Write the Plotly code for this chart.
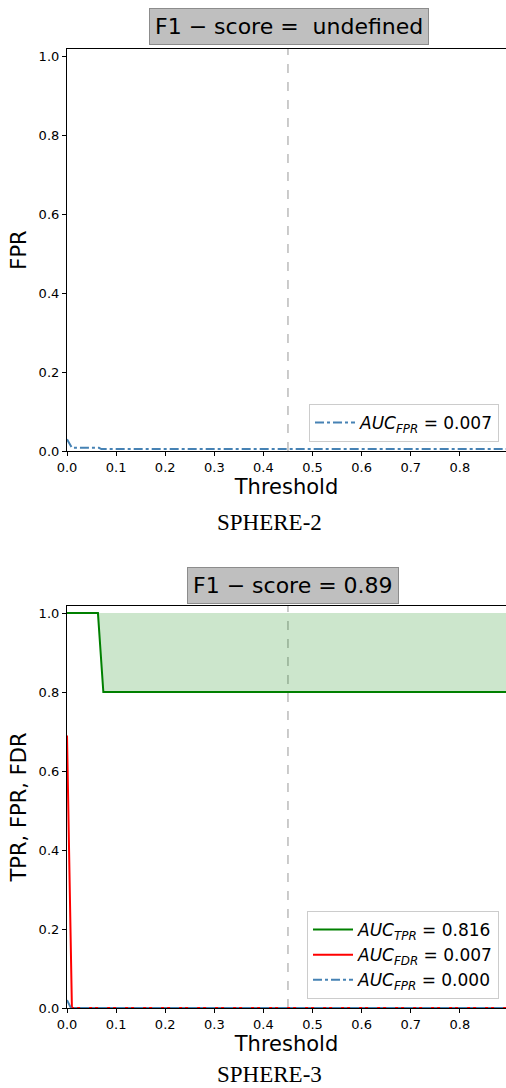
import plotly.graph_objects as go

W, H = 506, 1088

# ---- data ----
thr_top = [0.0, 0.01, 0.065, 0.07, 1.0]
fpr_top = [0.03, 0.008, 0.008, 0.005, 0.005]

thr_tpr = [0.0, 0.063, 0.074, 1.0]
tpr_bot = [1.0, 1.0, 0.8, 0.8]
ones_bot = [1.0, 1.0, 1.0, 1.0]
thr_fdr = [0.0, 0.01, 1.0]
fdr_bot = [0.69, 0.0, 0.0]
thr_fpr = [0.0, 0.008, 1.0]
fpr_bot = [0.02, 0.0, 0.0]

x_ticks = [0.0, 0.1, 0.2, 0.3, 0.4, 0.5, 0.6, 0.7, 0.8]
y_ticks = [0.0, 0.2, 0.4, 0.6, 0.8, 1.0]
threshold_line = 0.45

legend_top = ["<i>AUC<sub>FPR</sub></i> = 0.007"]
legend_bot = ["<i>AUC<sub>TPR</sub></i> = 0.816", "<i>AUC<sub>FDR</sub></i> = 0.007",
              "<i>AUC<sub>FPR</sub></i> = 0.000"]
titles = ["F1 \u2212 score =  undefined", "F1 \u2212 score = 0.89"]
captions = ["SPHERE-2", "SPHERE-3"]
ytitles = ["FPR", "TPR, FPR, FDR"]

def py(p):
    return 1 - p / H

def px(p):
    return p / W

fig = go.Figure()

# top panel
fig.add_trace(go.Scatter(x=thr_top, y=fpr_top, mode="lines", name=legend_top[0],
                         line=dict(color="#4682b4", width=2, dash="dashdot"),
                         xaxis="x", yaxis="y", legend="legend"))

# bottom panel: shaded band between TPR and 1
fig.add_trace(go.Scatter(x=thr_tpr, y=ones_bot, mode="lines", line=dict(width=0, color="rgba(0,0,0,0)"),
                         showlegend=False, hoverinfo="skip", xaxis="x2", yaxis="y2"))
fig.add_trace(go.Scatter(x=thr_tpr, y=tpr_bot, mode="lines", line=dict(width=0, color="rgba(0,0,0,0)"),
                         fill="tonexty", fillcolor="rgba(0,128,0,0.2)", showlegend=False,
                         hoverinfo="skip", xaxis="x2", yaxis="y2"))
fig.add_trace(go.Scatter(x=thr_tpr, y=tpr_bot, mode="lines", name=legend_bot[0],
                         line=dict(color="#008000", width=2), xaxis="x2", yaxis="y2", legend="legend2"))
fig.add_trace(go.Scatter(x=thr_fdr, y=fdr_bot, mode="lines", name=legend_bot[1],
                         line=dict(color="#ff0000", width=2), xaxis="x2", yaxis="y2", legend="legend2"))
fig.add_trace(go.Scatter(x=thr_fpr, y=fpr_bot, mode="lines", name=legend_bot[2],
                         line=dict(color="#4682b4", width=2, dash="dashdot"),
                         xaxis="x2", yaxis="y2", legend="legend2"))

tickfont = dict(family="DejaVu Sans", size=13, color="black")
titlefont = dict(family="DejaVu Sans", size=21, color="black")

def xaxis(dom_anchor):
    return dict(domain=[px(67), 1], range=[0, 0.894], tickvals=x_ticks,
                ticktext=[f"{v:.1f}" for v in x_ticks], ticks="outside", ticklen=4,
                tickcolor="black", showline=True, linecolor="black", linewidth=1.2,
                mirror=True, showgrid=False, zeroline=False, tickfont=tickfont,
                automargin=False, anchor=dom_anchor,
                title=dict(text="Threshold", font=titlefont, standoff=2))

def yaxis(dom, rng, anchor, ttl):
    return dict(domain=dom, range=rng, tickvals=y_ticks,
                ticktext=[f"{v:.1f}" for v in y_ticks], ticks="outside", ticklen=4,
                tickcolor="black", showline=True, linecolor="black", linewidth=1.2,
                showgrid=False, zeroline=False, tickfont=tickfont, anchor=anchor,
                automargin=False, title=dict(text=ttl, font=titlefont, standoff=6))

legfont = dict(family="DejaVu Sans", size=17, color="black")

fig.update_layout(
    width=W, height=H, margin=dict(l=0, r=0, t=0, b=0),
    paper_bgcolor="white", plot_bgcolor="white",
    xaxis=xaxis("y"),
    yaxis=yaxis([py(451), py(49)], [0, 1.02], "x", ytitles[0]),
    xaxis2=xaxis("y2"),
    yaxis2=yaxis([py(1008), py(606)], [0, 1.018], "x2", ytitles[1]),
    legend=dict(x=px(499), y=py(442), xanchor="right", yanchor="bottom",
                bgcolor="white", bordercolor="#cccccc", borderwidth=1, font=legfont,
                traceorder="normal", itemwidth=40),
    legend2=dict(x=px(499), y=py(999), xanchor="right", yanchor="bottom",
                 bgcolor="white", bordercolor="#cccccc", borderwidth=1, font=legfont,
                 traceorder="normal", itemwidth=40),
    showlegend=True,
)

for xr, yr in (("x", "y domain"), ("x2", "y2 domain")):
    fig.add_shape(type="line", xref=xr, yref=yr, x0=threshold_line, x1=threshold_line, y0=0, y1=1,
                  line=dict(color="#bbbbbb", width=1.5, dash="dash"), layer="below")

for ttl, yc, xc in ((titles[0], 27, 289), (titles[1], 585, 293)):
    fig.add_annotation(text=ttl, xref="paper", yref="paper", x=px(xc), y=py(yc),
                       showarrow=False, font=dict(family="DejaVu Sans", size=22, color="black"),
                       bgcolor="#bfbfbf", bordercolor="#8c8c8c", borderwidth=1, borderpad=5,
                       xanchor="center", yanchor="middle")

for cap, yc in ((captions[0], 522), (captions[1], 1074)):
    fig.add_annotation(text=cap, xref="paper", yref="paper", x=px(269), y=py(yc),
                       showarrow=False, font=dict(family="Liberation Serif", size=23, color="black"),
                       xanchor="center", yanchor="middle")

fig.write_html("out.html", config={"displayModeBar": False},
               post_script="document.body.style.margin='0px';document.body.style.overflow='hidden';")
